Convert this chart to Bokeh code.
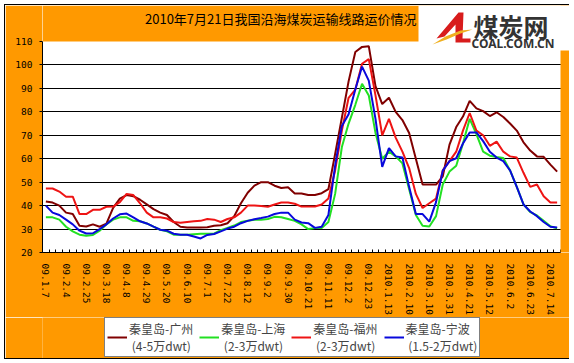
from bokeh.plotting import figure
from bokeh.layouts import column
from bokeh.models import (FixedTicker, Label, BoxAnnotation, Legend, LegendItem,
                          PolyAnnotation, Range1d)
from bokeh.embed import file_html
from bokeh.resources import INLINE

# ---------------- data ----------------
weeks = ["09.1.7", "09.1.14", "09.1.21", "09.2.4", "09.2.11", "09.2.18", "09.2.25",
         "09.3.4", "09.3.11", "09.3.18", "09.3.25", "09.4.1", "09.4.8", "09.4.15",
         "09.4.22", "09.4.29", "09.5.6", "09.5.13", "09.5.20", "09.5.27", "09.6.3",
         "09.6.10", "09.6.17", "09.6.24", "09.7.1", "09.7.8", "09.7.15", "09.7.22",
         "09.7.29", "09.8.5", "09.8.12", "09.8.19", "09.8.26", "09.9.2", "09.9.9",
         "09.9.16", "09.9.30", "09.10.7", "09.10.14", "09.10.21", "09.10.28", "09.11.4",
         "09.11.11", "09.11.18", "09.11.25", "09.12.2", "09.12.9", "09.12.16", "09.12.23",
         "09.12.30", "2010.1.6", "2010.1.13", "2010.1.20", "2010.1.27", "2010.2.10",
         "2010.2.24", "2010.3.3", "2010.3.10", "2010.3.17", "2010.3.24", "2010.3.31",
         "2010.4.7", "2010.4.14", "2010.4.21", "2010.4.28", "2010.5.5", "2010.5.12",
         "2010.5.19", "2010.5.26", "2010.6.2", "2010.6.9", "2010.6.16", "2010.6.23",
         "2010.6.30", "2010.7.7", "2010.7.14", "2010.7.21"]

qhd_guangzhou = [41.8, 41.3, 40, 37, 36.4, 31.4, 31.1, 32, 31, 32.3, 39, 43, 44.5, 44,
                 42.5, 40.5, 38.5, 37, 36, 33, 31, 30.7, 30.7, 30.7, 30.8, 31.4, 31.6,
                 32.5, 35.5, 41, 45.5, 48.5, 50, 50, 48.5, 47.5, 47.8, 45.2, 45.2, 44.5,
                 44.5, 45.3, 47, 62, 77.5, 93, 105.5, 107.7, 108, 91, 83.3, 86, 80, 76.5,
                 71, 60, 49, 49, 49, 52.5, 66, 73.5, 78, 84.7, 81.5, 80.3, 78.2, 79.8,
                 77.8, 75, 72, 67, 63.5, 61, 60.8, 57.5, 54.5]
qhd_shanghai = [35, 35, 34, 31, 29, 27.6, 27.1, 27.5, 29.3, 32, 34, 35, 35, 33.5, 33.3,
                32.4, 31, 29.7, 29, 27.6, 27.6, 27.6, 27.8, 28, 28, 28, 29.5, 30.5, 31.5,
                33, 33.5, 34, 34, 34.3, 35.2, 35, 34.3, 33.5, 32, 30, 30.4, 30.4, 33, 45,
                65, 75, 83, 92, 87, 71, 60, 63, 61, 58, 47, 36, 31.4, 31.1, 35.5, 49,
                54.5, 57, 66.5, 77, 70.5, 63, 61.3, 60.7, 60.3, 55, 48, 40.5, 37.2, 35.8,
                33.5, 31.2, 30.3]
qhd_fuzhou = [47.3, 47.3, 46, 43.8, 43.8, 36.4, 36.4, 38.2, 38.2, 39.5, 39.6, 41.5, 45,
              44.5, 41, 37, 35, 35, 34.5, 33, 32.7, 33, 33.3, 33.5, 34.3, 34, 33, 34.3,
              35, 37, 40, 40, 39.8, 39.5, 40.5, 41.3, 41.3, 40.8, 39.6, 39.6, 39.6, 40.5,
              43, 55, 72, 86, 89.5, 100.5, 102.5, 87, 70, 77, 69, 63, 56, 45, 39, 41, 43,
              55, 59, 63, 72, 79.5, 72, 70, 65.5, 67.3, 63, 61, 60.5, 54, 48, 49, 44,
              41.3, 41.3]
qhd_ningbo = [40, 37, 36, 34, 32, 29.3, 28.1, 28.2, 30, 32, 34.5, 36.3, 36.6, 35, 33.3,
              32.4, 31, 29.7, 29.3, 28, 27.6, 27.6, 26.8, 26, 27.5, 27.9, 29, 30.2, 31,
              32.5, 33.5, 34.2, 34.7, 35.3, 36.4, 37, 37, 34, 32.8, 32.5, 30.5, 31, 36,
              57, 74, 79, 89.5, 99.3, 93.3, 77, 56.5, 64.5, 61, 60.5, 48, 36.4, 36.4,
              33.2, 41.5, 54.9, 59, 60.2, 66.5, 71.2, 71.2, 67.5, 63, 60.5, 59, 55, 48,
              40.5, 37.5, 35.5, 33, 31, 30.7]

series = [qhd_guangzhou, qhd_shanghai, qhd_fuzhou, qhd_ningbo]
series_names = ["秦皇岛-广州\n (4-5万dwt)", "秦皇岛-上海\n (2-3万dwt)",
                "秦皇岛-福州\n (2-3万dwt)", "秦皇岛-宁波\n (1.5-2万dwt)"]
series_colors = ["#800000", "#22e022", "#ee1414", "#0808dc"]
y_ticks = [20, 30, 40, 50, 60, 70, 80, 90, 100, 110]
title_text = "2010年7月21日我国沿海煤炭运输线路运价情况"

# ---------------- layout (canvas pixels) ----------------
W, H, HL = 564, 312, 41     # chart canvas, legend strip height
FL, FB = 37, 247            # frame left / frame bottom (frame reaches top & right edge)
PT, PW, PH = 36, 518, 211   # plot area top, width, height (white area)
NX = len(weeks)
X0, XP = -0.5, NX - 0.5
Y0, YP = 20, 110
SX = PW / NX
SY = PH / (YP - Y0)
X1 = XP + (W - FL - PW) / SX
Y1 = YP + PT / SY
ORANGE = "#FF9900"
FONT = "Noto Sans CJK SC"
MONO = "DejaVu Sans Mono"


def fx(cx):
    return X0 + (cx - FL) / SX


def fy(cy):
    return YP - (cy - PT) / SY


p = figure(width=W, height=H, output_backend="svg", toolbar_location=None,
           x_range=Range1d(X0, X1), y_range=Range1d(Y0, Y1),
           min_border_left=FL, min_border_top=0, min_border_right=0,
           min_border_bottom=H - FB,
           background_fill_color="white", border_fill_color=ORANGE,
           outline_line_color=None)

xs = list(range(NX))
for ys, c in zip(series, series_colors):
    p.line(xs, ys, line_color=c, line_width=2)

# axes
p.xaxis.bounds = (X0, XP)
p.xaxis.ticker = FixedTicker(ticks=xs[::3], minor_ticks=[i - 0.5 for i in range(NX + 1)])
p.xaxis.major_label_overrides = {i: weeks[i] for i in xs[::3]}
p.xaxis.major_label_orientation = "vertical"
p.xaxis.major_tick_in = 0
p.xaxis.major_tick_out = 0
p.xaxis.minor_tick_in = 3
p.xaxis.minor_tick_out = 0
p.xaxis.minor_tick_line_color = "black"
p.xaxis.axis_line_color = "black"
p.xaxis.major_label_standoff = 11
p.xaxis.major_label_text_font = MONO
p.xaxis.major_label_text_font_size = "9.5px"
p.xaxis.major_label_text_color = "black"

p.yaxis.bounds = (Y0, YP)
p.yaxis.ticker = FixedTicker(ticks=y_ticks)
p.yaxis.major_tick_in = 0
p.yaxis.major_tick_out = 3
p.yaxis.minor_tick_line_color = None
p.yaxis.axis_line_color = "black"
p.yaxis.major_tick_line_color = "black"
p.yaxis.major_label_standoff = 7
p.yaxis.major_label_text_font = MONO
p.yaxis.major_label_text_font_size = "9.5px"
p.yaxis.major_label_text_color = "black"

p.xgrid.grid_line_color = None
p.ygrid.ticker = FixedTicker(ticks=y_ticks[1:-1])
p.ygrid.bounds = (X0, XP)
p.ygrid.grid_line_color = "black"
p.ygrid.grid_line_width = 1

# orange surround inside the frame (above 110 and right of last category)
p.add_layout(BoxAnnotation(bottom=YP, fill_color=ORANGE, fill_alpha=1, line_color=None))
p.add_layout(BoxAnnotation(left=XP, fill_color=ORANGE, fill_alpha=1, line_color=None))

# title
p.add_layout(Label(x=fx(411), y=fy(12.5), text=title_text, text_align="right",
                   text_baseline="middle", text_font=FONT,
                   text_font_size="13px", text_color="black"))

# logo
p.add_layout(BoxAnnotation(left=fx(413), bottom=fy(45),
                           fill_color="white", fill_alpha=1, line_color=None))
red_px = [(431, 33), (453, 7), (458, 7), (457, 33), (465, 33), (465, 37), (450, 37),
          (450, 19), (439, 31)]
gold_px = [(427, 39), (440, 31), (455, 25), (467, 24), (455, 28), (441, 34)]
p.add_layout(PolyAnnotation(xs=[fx(a) for a, b in red_px], ys=[fy(b) for a, b in red_px],
                            fill_color="#d81c1c", fill_alpha=1, line_color=None))
p.add_layout(PolyAnnotation(xs=[fx(a) for a, b in gold_px], ys=[fy(b) for a, b in gold_px],
                            fill_color="#f0b020", fill_alpha=1, line_color=None))
p.add_layout(Label(x=fx(468), y=fy(20), text="煤炭网", text_align="left",
                   text_baseline="middle", text_font=FONT, text_font_style="bold",
                   text_font_size="25px", text_color="#333333"))
p.add_layout(Label(x=fx(466), y=fy(38), text="COAL.COM.CN", text_align="left",
                   text_baseline="middle", text_font="Noto Sans", text_font_style="bold",
                   text_font_size="12px", text_color="#333333"))

# ---------------- legend strip ----------------
lg = figure(width=W, height=HL, output_backend="svg", toolbar_location=None,
            x_range=Range1d(X0, X1), y_range=Range1d(-2, -1),
            x_axis_location=None, y_axis_location=None,
            min_border_left=0, min_border_right=0, min_border_top=0, min_border_bottom=0,
            background_fill_color=ORANGE, border_fill_color=ORANGE,
            outline_line_color=None)
lg.grid.visible = False
leg_renderers = [lg.line(xs, ys, line_color=c, line_width=2)
                 for ys, c in zip(series, series_colors)]
items = [LegendItem(label=n, renderers=[r]) for n, r in zip(series_names, leg_renderers)]
legend = Legend(items=items, orientation="horizontal", location=(62, 1),
                background_fill_color="white", background_fill_alpha=1,
                border_line_color="black", border_line_width=1,
                label_text_font=FONT, label_text_font_size="12px",
                label_text_line_height=1.05,
                glyph_width=20, label_standoff=2, spacing=6, padding=2, margin=0)
lg.add_layout(legend, "center")

layout = column(p, lg, spacing=0)
layout.styles = {"margin-left": "4px", "margin-top": "4px",
                 "border-left": "1px solid black", "border-top": "1px solid black",
                 "border-bottom": "1px solid black"}

open("out.html", "w").write(file_html(layout, INLINE))
